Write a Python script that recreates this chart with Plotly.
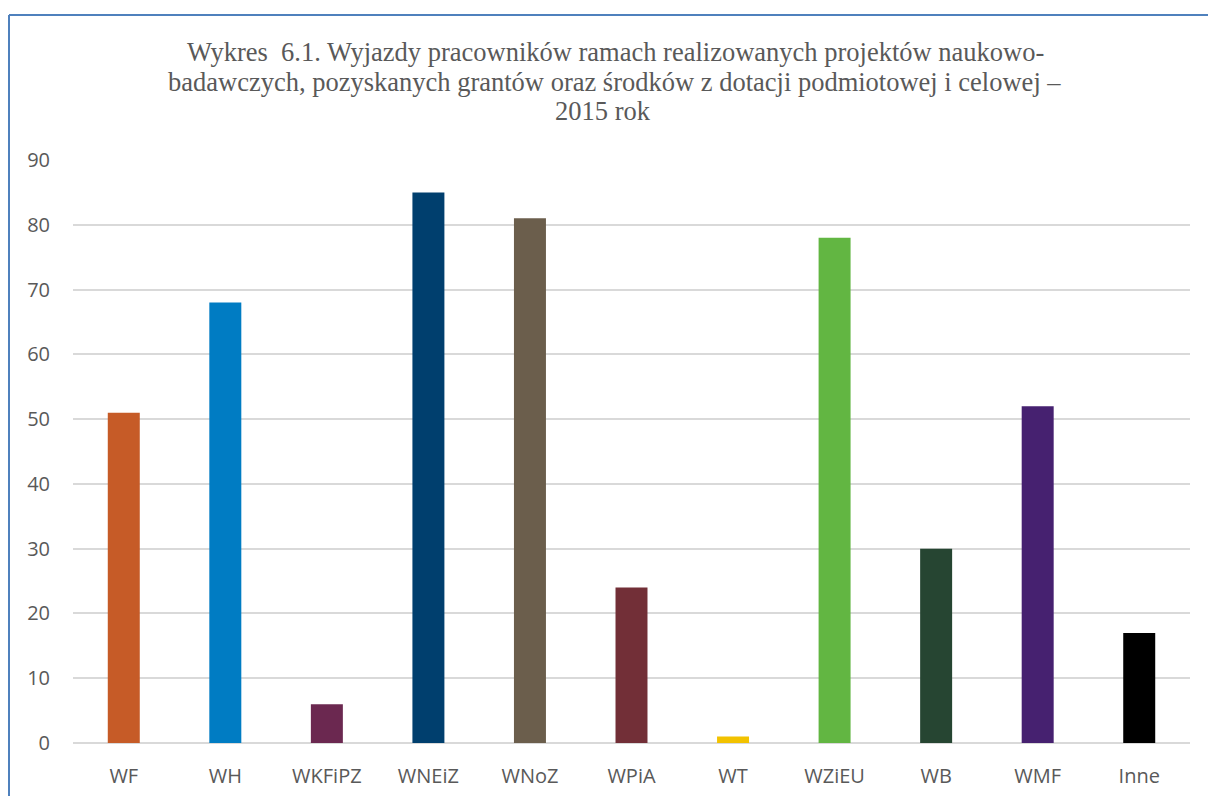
import plotly.graph_objects as go

categories = ["WF", "WH", "WKFiPZ", "WNEiZ", "WNoZ", "WPiA", "WT", "WZiEU", "WB", "WMF", "Inne"]
values = [51, 68, 6, 85, 81, 24, 1, 78, 30, 52, 17]
colors = ["#C65B27", "#007CC3", "#6B2850", "#003F6E", "#6B5E4C", "#722F37",
          "#F2C200", "#62B642", "#264532", "#462170", "#000000"]
title_lines = [
    "Wykres  6.1. Wyjazdy pracowników ramach realizowanych projektów naukowo-",
    "badawczych, pozyskanych grantów oraz środków z dotacji podmiotowej i celowej –",
    "2015 rok",
]

W, H = 1208, 796
L, R, T, B = 73, 18, 160, 53
pw, ph = W - L - R, H - T - B

fig = go.Figure(go.Bar(x=categories, y=values, marker=dict(color=colors, line=dict(width=0)),
                       width=0.315))

def px2x(px):
    return (px - L) / pw

def py2y(py):
    return (H - B - py) / ph

border = "#4F81BD"
fig.add_shape(type="line", xref="paper", yref="paper", x0=px2x(9), x1=px2x(1210),
              y0=py2y(15), y1=py2y(15), line=dict(color=border, width=2))
fig.add_shape(type="line", xref="paper", yref="paper", x0=px2x(9), x1=px2x(9),
              y0=py2y(15), y1=py2y(800), line=dict(color=border, width=2))

title_x = [615, 614, 603]
title_y = [52, 82, 111]
for txt, tx, ty in zip(title_lines, title_x, title_y):
    fig.add_annotation(text=txt, xref="paper", yref="paper", x=px2x(tx), y=py2y(ty),
                       xanchor="center", yanchor="middle", showarrow=False,
                       font=dict(family="Liberation Serif", size=26.5, color="#595959"))

fig.update_layout(
    width=W, height=H,
    margin=dict(l=L, r=R, t=T, b=B, autoexpand=False),
    paper_bgcolor="white", plot_bgcolor="white",
    showlegend=False,
    bargap=0.685,
    xaxis=dict(showgrid=False, showline=False, zeroline=False, automargin=False,
               ticks="outside", ticklen=15, tickcolor="rgba(0,0,0,0)",
               tickfont=dict(family="Open Sans", size=20, color="#595959")),
    yaxis=dict(range=[0, 90], dtick=10, showgrid=True, gridcolor="#D9D9D9", gridwidth=1.5,
               zeroline=True, zerolinecolor="#D9D9D9", zerolinewidth=1.5, showline=False,
               automargin=False,
               ticks="outside", ticklen=18, tickcolor="rgba(0,0,0,0)",
               tickfont=dict(family="Open Sans", size=20, color="#595959")),
)

fig.write_html("out.html", config={"displayModeBar": False},
               post_script="document.body.style.margin='0';")
